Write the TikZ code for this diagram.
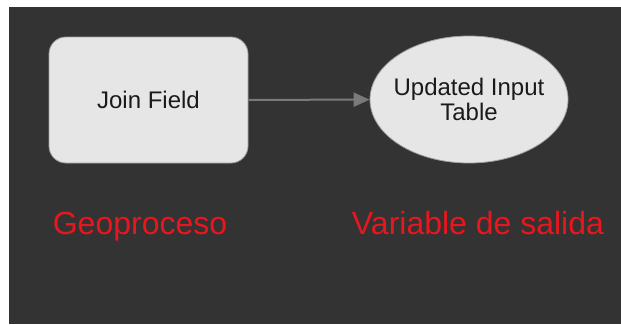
\documentclass[tikz,border=0pt]{standalone}
\usepackage{fontspec}
\setmainfont{Liberation Sans}
\usetikzlibrary{shapes.geometric,arrows.meta}
\definecolor{bgdark}{HTML}{333333}
\definecolor{nodefill}{HTML}{E6E6E6}
\definecolor{nodeline}{HTML}{A0A0A0}
\definecolor{arrgray}{HTML}{7A7A7A}
\definecolor{lblred}{HTML}{E8161E}
\definecolor{txtdark}{HTML}{1A1A1A}
\tikzset{
  procbox/.style={draw=nodeline, line width=0.8pt, fill=nodefill, rounded corners=17pt,
    minimum width=199pt, minimum height=126pt, inner sep=0pt, text=txtdark,
    font=\fontsize{24}{24}\selectfont},
  outell/.style={ellipse, draw=nodeline, line width=0.8pt, fill=nodefill,
    minimum width=198pt, minimum height=127pt, inner ysep=0pt, inner xsep=-6pt, text=txtdark,
    align=center, font=\fontsize{24}{25}\selectfont},
  arr/.style={draw=arrgray, line width=2pt, -{Triangle[length=16pt,width=14pt]}},
  lbl/.style={text=lblred, anchor=base, inner sep=0pt, font=\fontsize{32}{32}\selectfont}
}
\begin{document}
\begin{tikzpicture}[x=1pt,y=-1pt]
\useasboundingbox (0,0) rectangle (621,324);
\fill[white] (0,0) rectangle (621,324);
\fill[bgdark] (9,7) rectangle (621,324);
\node[procbox] (jf) at (148.5,100) {Join Field};
\node[outell] (uit) at (469,99.5) {Updated Input\\Table};
\draw[arr] (jf) -- (uit);
\node[lbl] (geo) at (140,234) {Geoproceso};
\node[lbl] (var) at (478,234) {Variable de salida};
\end{tikzpicture}
\end{document}
